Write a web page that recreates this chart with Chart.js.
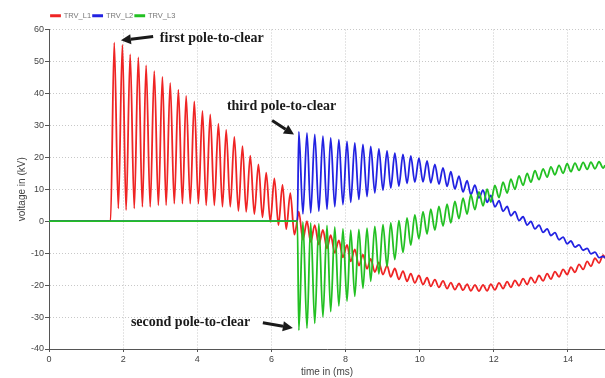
<!DOCTYPE html>
<html>
<head>
<meta charset="utf-8">
<script src="https://cdn.jsdelivr.net/npm/chart.js@4.4.1/dist/chart.umd.min.js"></script>
<style>
  html, body { margin: 0; padding: 0; background: #fff; }
  #wrap { width: 605px; height: 378px; }
</style>
</head>
<body>
<div id="wrap"><canvas id="trvChart" width="605" height="378"></canvas></div>
<script>
// time axis in ms, voltages in kV (peaks / troughs)
const timeEarly = [0, 1.66, 1.76, 1.87, 1.98, 2.08, 2.19, 2.30, 2.41, 2.52, 2.62, 2.73, 2.84, 2.95,
  3.06, 3.16, 3.27, 3.38, 3.49, 3.60, 3.70, 3.81, 3.92, 4.03, 4.14, 4.24, 4.35, 4.46, 4.57, 4.68,
  4.78, 4.89, 5.00, 5.11, 5.22, 5.32, 5.43, 5.54, 5.65, 5.76, 5.86, 5.97, 6.08, 6.19, 6.30, 6.40,
  6.51, 6.62];
const l1Early = [0, 0, 55.9, 4.0, 55.2, 3.5, 52.2, 4.0, 51.3, 4.5, 48.8, 4.5, 47.0, 5.0,
  45.2, 5.0, 43.3, 5.5, 41.2, 5.5, 39.2, 5.5, 37.5, 5.5, 34.5, 5.0, 33.4, 5.0, 30.5, 4.5,
  28.6, 4.5, 26.4, 3.2, 23.5, 2.9, 20.5, 2.2, 17.8, 1.2, 15.2, -0.2, 13.4, -1.2, 11.4, -2.5,
  8.8, -4.2];

const timeLate = [6.70, 6.74, 6.85, 6.96, 7.06, 7.17, 7.28, 7.39, 7.50, 7.60, 7.71, 7.82, 7.93,
  8.04, 8.14, 8.25, 8.36, 8.47, 8.58, 8.68, 8.79, 8.90, 9.01, 9.12, 9.22, 9.33, 9.44, 9.55, 9.66,
  9.76, 9.87, 9.98, 10.09, 10.20, 10.30, 10.41, 10.52, 10.63, 10.74, 10.84, 10.95, 11.06, 11.17,
  11.28, 11.38, 11.49, 11.60, 11.71, 11.82, 11.92, 12.03, 12.14, 12.25, 12.36, 12.46, 12.57,
  12.68, 12.79, 12.90, 13.00, 13.11, 13.22, 13.33, 13.44, 13.54, 13.65, 13.76, 13.87, 13.98,
  14.08, 14.19, 14.30, 14.41, 14.52, 14.62, 14.73, 14.84, 14.95, 15.00];
const l1Late = [0.5, 3, -5.8, 0, -6.5, -1.2, -7.3, -2.7, -8.5, -4.4, -9.9, -6, -11.3,
  -7.4, -12.6, -8.8, -13.9, -10.5, -14.9, -11.8, -15.9, -12.9, -16.7, -13.9, -17.4, -14.8, -18.2,
  -15.6, -18.8, -16.4, -19.3, -17, -19.8, -17.7, -20.4, -18.3, -20.7, -18.7, -21.1, -19.2, -21.4,
  -19.5, -21.6, -19.7, -21.8, -19.9, -21.9, -19.9, -21.8, -19.7, -21.5, -19.3, -21.1, -18.9,
  -20.7, -18.5, -20.2, -18, -19.8, -17.6, -19.3, -17, -18.7, -16.4, -18.1, -15.8, -17.4, -15.1,
  -16.7, -14.4, -16, -13.5, -15.1, -12.6, -14.1, -11.6, -13.1, -10.6, -11.5];
const l2Late = [0, 28, 2.3, 27.6, 2.6, 27.2, 3.1, 26.6, 3.7, 26.1, 4.5, 25.5, 5.2,
  25, 5.9, 24.5, 6.8, 24, 7.7, 23.4, 8.9, 22.6, 9.7, 22, 10.4, 21.3, 11,
  20.9, 11.8, 20.4, 12.2, 19.7, 12.3, 18.9, 12, 17.8, 11.6, 16.7, 10.9, 15.5, 10.1,
  14.1, 9.2, 12.7, 8.3, 11.3, 7.3, 9.7, 5.9, 8.1, 4.5, 6.4, 3.1, 4.6,
  1.7, 3, 0.2, 1.4, -1.2, -0.1, -2.4, -1.2, -3.5, -2.4, -4.5, -3.6, -5.8, -5,
  -7.1, -6.2, -8.1, -7.4, -9.1, -8.5, -10.2, -9.7, -11.4, -11, -11.5];
const l3Late = [0, -34.2, -0.3, -33.5, -0.5, -32, -0.8, -30, -1.3, -28.3, -1.8, -26.5, -2.4,
  -25, -2.8, -23.5, -2.6, -21, -2.2, -18.8, -1.6, -16.5, -1.1, -14.2, -0.5, -12, 0.2,
  -9.8, 1, -7.5, 2, -5.5, 3, -4, 3.8, -2.8, 4.6, -1.5, 5.3, -0.5, 6.2,
  0.8, 7.2, 2.2, 8.3, 3.6, 9.2, 4.8, 10, 6, 11.2, 7.4, 12.2, 8.8,
  13.2, 10, 14.2, 11.2, 15, 12.2, 15.8, 13, 16.4, 13.8, 17, 14.5, 17.5, 15,
  18, 15.5, 18.2, 15.9, 18.4, 16.2, 18.5, 16.4, 18.6, 16.6, 17.5];

const seriesNames = ['TRV_L1', 'TRV_L2', 'TRV_L3'];
const seriesColors = ['#ef2424', '#2222e2', '#22c022'];
const xTickValues = [0, 2, 4, 6, 8, 10, 12, 14];

// callouts: text anchor and arrow (tail -> head), in data units
const notes = [
  { text: 'first pole-to-clear',  at: [2.99, 57.2],  tail: [2.81, 57.8],  head: [1.94, 56.6] },
  { text: 'third pole-to-clear',  at: [4.80, 35.9],  tail: [6.02, 31.5],  head: [6.61, 27.1] },
  { text: 'second pole-to-clear', at: [2.21, -31.8], tail: [5.77, -31.8], head: [6.58, -33.4] }
];

function toPoints(times, values) {
  return times.map((t, i) => ({ x: t, y: values[i] }));
}

const l1Points = toPoints(timeEarly.concat(timeLate), l1Early.concat(l1Late));
const l2Points = [{ x: 0, y: 0 }].concat(toPoints(timeLate, l2Late));
const l3Points = [{ x: 0, y: 0 }].concat(toPoints(timeLate, l3Late));

const calloutPlugin = {
  id: 'callouts',
  afterDatasetsDraw(chart) {
    const { ctx, scales: { x, y } } = chart;
    ctx.save();
    ctx.fillStyle = '#1a1a1a';
    ctx.strokeStyle = '#1a1a1a';
    ctx.font = 'bold 14px "Liberation Serif", "Times New Roman", serif';
    ctx.textBaseline = 'middle';
    ctx.textAlign = 'left';
    notes.forEach(n => {
      ctx.fillText(n.text, x.getPixelForValue(n.at[0]), y.getPixelForValue(n.at[1]));
      const x0 = x.getPixelForValue(n.tail[0]), y0 = y.getPixelForValue(n.tail[1]);
      const x1 = x.getPixelForValue(n.head[0]), y1 = y.getPixelForValue(n.head[1]);
      const ang = Math.atan2(y1 - y0, x1 - x0);
      const headLen = 10, headW = 5;
      const bx = x1 - headLen * Math.cos(ang), by = y1 - headLen * Math.sin(ang);
      ctx.lineWidth = 3;
      ctx.beginPath();
      ctx.moveTo(x0, y0);
      ctx.lineTo(bx, by);
      ctx.stroke();
      ctx.beginPath();
      ctx.moveTo(x1, y1);
      ctx.lineTo(bx + headW * Math.sin(ang), by - headW * Math.cos(ang));
      ctx.lineTo(bx - headW * Math.sin(ang), by + headW * Math.cos(ang));
      ctx.closePath();
      ctx.fill();
    });
    ctx.restore();
  }
};

const makeSet = (i, points, order) => ({
  label: seriesNames[i],
  data: points,
  borderColor: seriesColors[i],
  backgroundColor: seriesColors[i],
  borderWidth: 1.8,
  pointRadius: 0,
  cubicInterpolationMode: 'monotone',
  order: order
});

const tickFont = { family: '"Liberation Sans", Arial, sans-serif', size: 9 };

new Chart(document.getElementById('trvChart'), {
  type: 'line',
  data: {
    datasets: [
      makeSet(0, l1Points, 3),
      makeSet(1, l2Points, 2),
      makeSet(2, l3Points, 1)
    ]
  },
  plugins: [calloutPlugin],
  options: {
    responsive: false,
    animation: false,
    events: [],
    layout: { padding: { top: 10, right: 0, left: 0, bottom: 0 } },
    plugins: {
      tooltip: { enabled: false },
      legend: {
        position: 'top',
        align: 'start',
        fullSize: false,
        labels: {
          boxWidth: 9,
          boxHeight: 1,
          padding: 2,
          color: '#777',
          font: { family: '"Liberation Sans", Arial, sans-serif', size: 7.5 },
          sort: (a, b) => a.datasetIndex - b.datasetIndex
        }
      }
    },
    scales: {
      x: {
        type: 'linear',
        min: 0,
        max: 15,
        afterBuildTicks: s => { s.ticks = xTickValues.map(v => ({ value: v })); },
        afterFit: s => { s.height = 29; },
        ticks: { color: '#444', font: tickFont, padding: 2, maxRotation: 0 },
        grid: { color: '#c8c8c8', tickLength: 3, tickColor: '#555', tickBorderDash: [] },
        border: { color: '#555', width: 1, dash: [1, 2] },
        title: {
          display: true, text: 'time in (ms)', color: '#444',
          font: { family: '"Liberation Sans", Arial, sans-serif', size: 10 },
          padding: { top: 0, bottom: 0 }
        }
      },
      y: {
        min: -40,
        max: 60,
        afterFit: s => { s.width = 49; },
        ticks: { stepSize: 10, color: '#444', font: tickFont, padding: 1 },
        grid: { color: '#c8c8c8', tickLength: 4, tickColor: '#555', tickBorderDash: [] },
        border: { color: '#555', width: 1, dash: [1, 2] },
        title: {
          display: true, text: 'voltage in (kV)', color: '#444',
          font: { family: '"Liberation Sans", Arial, sans-serif', size: 10 },
          padding: { top: 16, bottom: 0 }
        }
      }
    }
  }
});
</script>
</body>
</html>
